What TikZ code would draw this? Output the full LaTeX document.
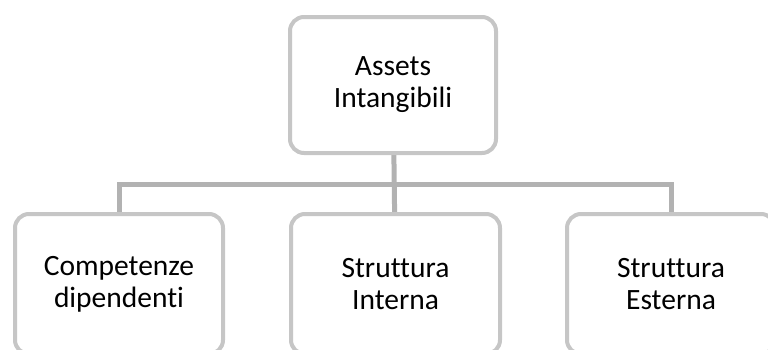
\documentclass[tikz,border=0pt]{standalone}
\usepackage{fontspec}
\setmainfont[Ligatures=NoCommon]{Carlito}
\definecolor{boxline}{HTML}{C6C6C6}
\definecolor{linkline}{HTML}{B2B2B2}
\begin{document}
\begin{tikzpicture}[x=1pt,y=-1pt,
  orgbox/.style={draw=boxline, line width=4pt, rounded corners=14pt, fill=white,
    minimum width=208pt, minimum height=136pt, inner sep=0pt, align=center,
    font=\fontsize{29.5}{32}\selectfont},
  link/.style={draw=linkline, line width=5pt}]
  \useasboundingbox (0,0) rectangle (768,349);
  \clip (0,0) rectangle (768,349);

  % bus line height
  \coordinate (bus) at (0,184);

  % connectors first, boxes on top
  \path (393,85) coordinate (topc);
  \path (119,284) coordinate (lc) (395.5,284) coordinate (mc) (671,284) coordinate (rc);
  \draw[link] (topc) -- (mc);
  \draw[link] (lc) -- (lc |- bus) -- (rc |- bus) -- (rc);

  \node[orgbox, minimum width=206pt] (top) at (topc) {Assets\\Intangibili};
  \node[orgbox, minimum height=140pt] (comp) at (lc) {Competenze\\dipendenti};
  \node[orgbox, minimum height=140pt, minimum width=209pt] (sint) at (mc) {Struttura\\Interna};
  \node[orgbox, minimum height=140pt] (sest) at (rc) {Struttura\\Esterna};
\end{tikzpicture}
\end{document}
